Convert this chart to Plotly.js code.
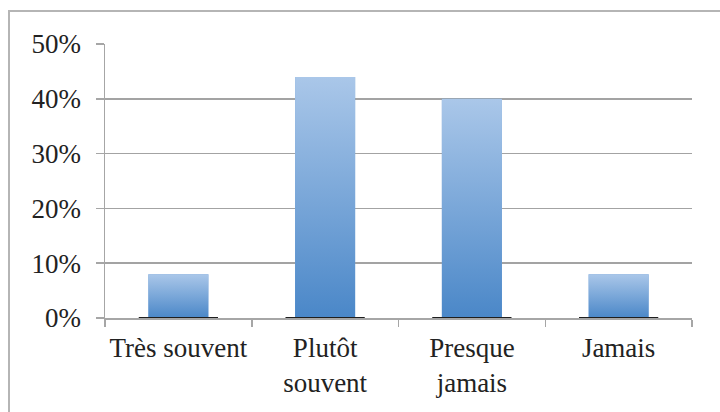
<!DOCTYPE html>
<html>
<head>
<meta charset="utf-8">
<script src="https://cdn.plot.ly/plotly-3.0.1.min.js"></script>
<style>
  html, body { margin: 0; padding: 0; background: #fff; }
  #wrap { position: relative; width: 720px; height: 412px; overflow: hidden; }
  #chart { width: 720px; height: 412px; }
  #frame { position: absolute; left: 8px; top: 10px; width: 730px; height: 420px;
           border-left: 2px solid #b5b5b5; border-top: 2px solid #b5b5b5; pointer-events: none; }
</style>
</head>
<body>
<div id="wrap">
  <div id="chart"></div>
  <div id="frame"></div>
</div>
<script>
const categories = ['Très souvent', 'Plutôt<br>souvent', 'Presque<br>jamais', 'Jamais'];
const values = [0.08, 0.44, 0.40, 0.08];
const yTicks = [0, 0.1, 0.2, 0.3, 0.4, 0.5];

const barWidth = 0.41;
const baseHalf = 0.27;

const gradSvg = '<svg xmlns="http://www.w3.org/2000/svg" width="10" height="100" preserveAspectRatio="none">' +
  '<defs><linearGradient id="g" x1="0" y1="0" x2="0" y2="1">' +
  '<stop offset="0" stop-color="#aac7e9"/><stop offset="1" stop-color="#4a87c8"/>' +
  '</linearGradient></defs><rect width="10" height="100" fill="url(#g)"/></svg>';
const gradUri = 'data:image/svg+xml;charset=utf-8,' + encodeURIComponent(gradSvg);

const images = categories.map((c, i) => ({
  source: gradUri, xref: 'x', yref: 'y', x: c, y: values[i],
  sizex: barWidth, sizey: values[i], xanchor: 'center', yanchor: 'top',
  sizing: 'stretch', layer: 'above'
}));

const shapes = categories.map((c, i) => ({
  type: 'line', xref: 'x', yref: 'y', x0: i - baseHalf, x1: i + baseHalf, y0: 0, y1: 0,
  line: { color: '#1e1e1e', width: 2 }, layer: 'above'
}));

const trace = {
  type: 'bar', x: categories, y: values, width: barWidth,
  marker: { color: '#7aa6da', line: { width: 0 } },
  hoverinfo: 'skip'
};

const font = { family: '"Liberation Serif", "DejaVu Serif", serif', size: 27, color: '#222' };

const layout = {
  width: 720, height: 412,
  margin: { l: 105, r: 28, t: 44, b: 94 },
  paper_bgcolor: '#fff', plot_bgcolor: '#fff',
  showlegend: false,
  font: font,
  xaxis: {
    type: 'category', showgrid: false, showline: true, linecolor: '#a6a6a6', linewidth: 1.5,
    ticks: 'outside', tickson: 'boundaries', ticklen: 7, tickcolor: '#a6a6a6', tickwidth: 1.5,
    tickangle: 0, tickfont: font, ticklabelstandoff: 5, fixedrange: true
  },
  yaxis: {
    range: [0, 0.5], tickvals: yTicks, tickformat: '.0%',
    showgrid: true, gridcolor: '#a3a3a3', gridwidth: 1.5, zeroline: false,
    showline: true, linecolor: '#a6a6a6', linewidth: 1.5,
    ticks: 'outside', ticklen: 8, tickcolor: '#a6a6a6', tickwidth: 1.5,
    tickfont: font, ticklabelstandoff: 9, fixedrange: true
  },
  images: images,
  shapes: shapes
};

Plotly.newPlot('chart', [trace], layout, { displayModeBar: false, staticPlot: true });
</script>
</body>
</html>
